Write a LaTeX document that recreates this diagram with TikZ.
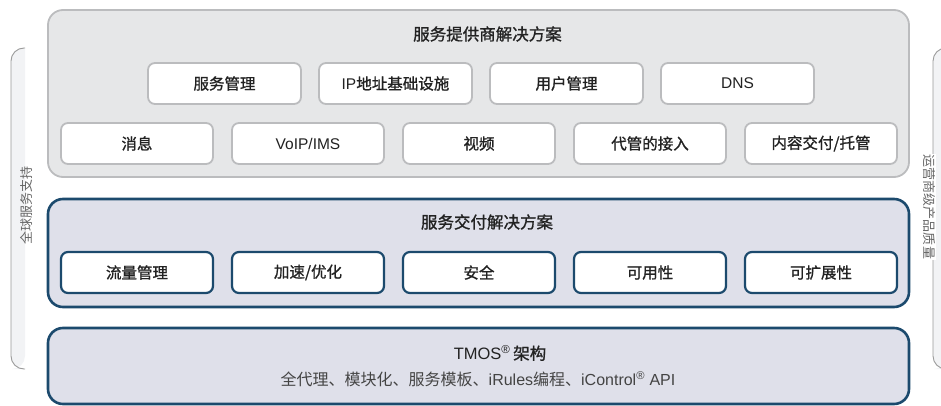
\documentclass[tikz,border=0pt]{standalone}
\usepackage{fontspec}
\setmainfont{Liberation Sans}
\newfontfamily\cjk{Noto Sans CJK SC}
\newfontfamily\cjkm[FakeBold=1.1]{Noto Sans CJK SC}
\newcommand\zh[1]{{\cjk #1}}
\newcommand\zm[1]{{\cjkm #1}}
\definecolor{graybg}{HTML}{E6E7E8}
\definecolor{grayline}{HTML}{BBBCBE}
\definecolor{bluebg}{HTML}{DFE0EA}
\definecolor{navy}{HTML}{1C4A6D}
\definecolor{sidebg}{HTML}{F2F3F5}
\definecolor{sideline}{HTML}{9A9A9A}
\definecolor{txt}{HTML}{222222}
\definecolor{subtxt}{HTML}{444444}
\definecolor{sidetxt}{HTML}{666666}
\begin{document}
\begin{tikzpicture}[x=1pt,y=-1pt,
  bigG/.style={draw=grayline, fill=graybg, line width=1.8pt, rounded corners=15pt, minimum width=861pt, inner sep=0pt},
  bigB/.style={draw=navy, fill=bluebg, line width=2.6pt, rounded corners=15pt, minimum width=861pt, inner sep=0pt},
  gbox/.style={draw=grayline, fill=white, line width=1.8pt, rounded corners=7pt, minimum height=41pt, inner sep=0pt, font=\fontsize{15.5}{18}\selectfont, text=txt},
  bbox/.style={draw=navy, fill=white, line width=2.2pt, rounded corners=7pt, minimum height=41pt, minimum width=152pt, inner sep=0pt, font=\fontsize{15.5}{18}\selectfont, text=txt},
  ttl/.style={font=\fontsize{16.5}{18}\selectfont, text=txt, inner sep=0pt},
  sub/.style={font=\fontsize{16}{18}\selectfont, text=subtxt, inner sep=0pt},
  sidelab/.style={font=\fontsize{13}{16}\selectfont, text=sidetxt, inner sep=1pt},
  sideline/.style={draw=sideline, line width=0.9pt, rounded corners=13pt}
]
\useasboundingbox (0,0) rectangle (941,406);
% side brackets
\fill[sidebg, rounded corners=13pt] (25,48) -- (11,48) -- (11,369) -- (25,369) [sharp corners] -- cycle;
\draw[sideline] (25,48) -- (11,48) -- (11,369) -- (25,369);
\fill[sidebg, rounded corners=13pt] (947,48) -- (933,48) -- (933,369) -- (947,369) [sharp corners] -- cycle;
\draw[sideline] (947,48) -- (933,48) -- (933,369) -- (947,369);
\node[sidelab, rotate=90] (lside) at (26,205) {\zh{全球服务支持}};
\node[sidelab, rotate=-90, fill=white] (rside) at (929,207) {\zh{运营商级产品质量}};
% containers
\node[bigG, minimum height=167pt] (top) at (478.5,93.5) {};
\node[bigB, minimum height=108pt] (mid) at (478.5,253) {};
\node[bigB, minimum height=76pt] (bot) at (478.5,366) {};
% titles
\node[ttl] (ttop) at (487.5,34) {\zm{服务提供商解决方案}};
\node[ttl] (tmid) at (487,222) {\zm{服务交付解决方案}};
\node[ttl] (tbot) at (500,353) {TMOS\textsuperscript{®}\,\zm{架构}};
\node[sub] (sbot) at (478,379) {\zh{全代理、模块化、服务模板、}iRules\zh{编程、}iControl\textsuperscript{®} API};
% row 1
\node[gbox, minimum width=153pt] (r1a) at (224.5,83.5) {\zm{服务管理}};
\node[gbox, minimum width=153pt] (r1b) at (395.5,83.5) {IP\zm{地址基础设施}};
\node[gbox, minimum width=153pt] (r1c) at (566.5,83.5) {\zm{用户管理}};
\node[gbox, minimum width=153pt] (r1d) at (737.5,83.5) {DNS};
% row 2
\node[gbox, minimum width=152pt] (r2a) at (137,143.5) {\zm{消息}};
\node[gbox, minimum width=152pt] (r2b) at (308,143.5) {VoIP/IMS};
\node[gbox, minimum width=152pt] (r2c) at (479,143.5) {\zm{视频}};
\node[gbox, minimum width=152pt] (r2d) at (650,143.5) {\zm{代管的接入}};
\node[gbox, minimum width=152pt] (r2e) at (821,143.5) {\zm{内容交付/托管}};
% row 3
\node[bbox] (r3a) at (137,272.5) {\zm{流量管理}};
\node[bbox] (r3b) at (308,272.5) {\zm{加速/优化}};
\node[bbox] (r3c) at (479,272.5) {\zm{安全}};
\node[bbox] (r3d) at (650,272.5) {\zm{可用性}};
\node[bbox] (r3e) at (821,272.5) {\zm{可扩展性}};
\end{tikzpicture}
\end{document}
